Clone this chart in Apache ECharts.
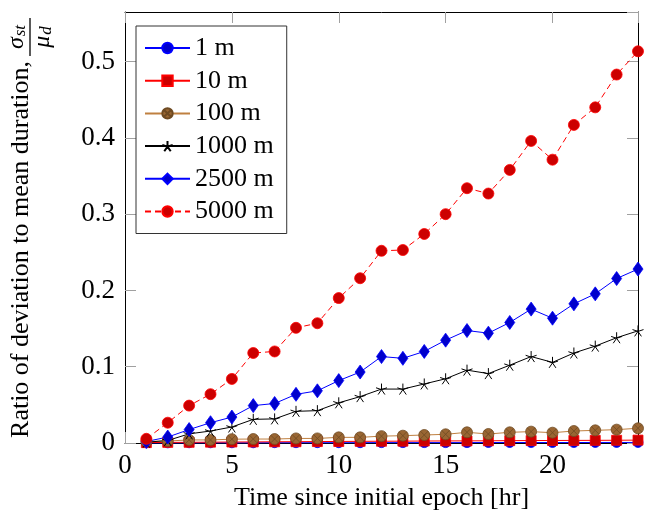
<!DOCTYPE html>
<html>
<head>
<meta charset="utf-8">
<script src="https://cdn.jsdelivr.net/npm/echarts@6/dist/echarts.min.js"></script>
<style>
  html, body { margin: 0; padding: 0; background: #fff; }
  #chart { width: 646px; height: 517px; }
</style>
</head>
<body>
<div id="chart"></div>
<script>
// hours since initial epoch
const hours = [1, 2, 3, 4, 5, 6, 7, 8, 9, 10, 11, 12, 13, 14, 15, 16, 17, 18, 19, 20, 21, 22, 23, 24]

// ratio sigma_st / mu_d per separation
const dev1m = [0.0002, 0.0002, 0.0003, 0.0003, 0.0003, 0.0003, 0.0004, 0.0004, 0.0004, 0.0004, 0.0004, 0.0005,
  0.0005, 0.0005, 0.0005, 0.0005, 0.0006, 0.0006, 0.0006, 0.0006, 0.0006, 0.0007, 0.0007, 0.0007]
const dev10m = [0.0005, 0.0008, 0.0009, 0.0011, 0.0013, 0.0014, 0.0016, 0.0017, 0.0019, 0.002, 0.0022, 0.0023,
  0.0024, 0.0026, 0.0027, 0.0028, 0.0029, 0.0031, 0.0032, 0.0033, 0.0034, 0.0035, 0.0036, 0.0038]
const dev100m = [0.002, 0.0026, 0.004, 0.004, 0.005, 0.0052, 0.0052, 0.006, 0.006, 0.0074, 0.0074, 0.009,
  0.0096, 0.0105, 0.0114, 0.014, 0.0118, 0.014, 0.0149, 0.0135, 0.0157, 0.0166, 0.0175, 0.0193]
const dev1000m = [0.001, 0.0033, 0.012, 0.0157, 0.021, 0.031, 0.0316, 0.0415, 0.0424, 0.0527, 0.0608, 0.0707,
  0.0707, 0.0774, 0.0842, 0.0955, 0.091, 0.102, 0.1133, 0.1057, 0.118, 0.127, 0.138, 0.147]
const dev2500m = [0.002, 0.0078, 0.0176, 0.0266, 0.034, 0.049, 0.0518, 0.0638, 0.0684, 0.0818, 0.093, 0.1133,
  0.111, 0.12, 0.1348, 0.1474, 0.144, 0.158, 0.1755, 0.1636, 0.1824, 0.1955, 0.2156, 0.228]
const dev5000m = [0.0055, 0.0266, 0.049, 0.064, 0.084, 0.118, 0.12, 0.151, 0.157, 0.19, 0.216, 0.252,
  0.253, 0.274, 0.3, 0.334, 0.327, 0.358, 0.396, 0.3714, 0.417, 0.44, 0.483, 0.5135]

const seriesNames = ['1 m', '10 m', '100 m', '1000 m', '2500 m', '5000 m']

const font = 'Liberation Serif'
const STAR = 'path://M0,-10L0,0M9.51,-3.09L0,0M5.88,8.09L0,0M-5.88,8.09L0,0M-9.51,-3.09L0,0'
const OTIMES = 'path://M10,0A10,10,0,1,1,-10,0A10,10,0,1,1,10,0ZM-7.07,-7.07L7.07,7.07M-7.07,7.07L7.07,-7.07'

function pairs(values) {
  return hours.map((h, i) => [h, values[i]])
}

function makeSeries(name, values, opt) {
  return {
    name: name,
    type: 'line',
    data: pairs(values),
    clip: false,
    symbol: opt.symbol,
    symbolSize: opt.size,
    lineStyle: { color: opt.line, width: 1, type: opt.dash || 'solid' },
    itemStyle: { color: opt.fill, borderColor: opt.border, borderWidth: opt.bw || 0.8 },
    emphasis: { disabled: true }
  }
}

const axisCommon = {
  type: 'value',
  axisLine: { show: true, onZero: false, lineStyle: { color: '#000', width: 1 } },
  axisTick: { show: true, inside: true, length: 11, lineStyle: { color: '#a0a0a0', width: 1 } },
  splitLine: { show: false }
}

const chart = echarts.init(document.getElementById('chart'))
chart.setOption({
  animation: false,
  backgroundColor: '#fff',
  grid: { left: 119, right: 8, top: 12, bottom: 74 },
  legend: {
    data: seriesNames,
    orient: 'vertical',
    left: 136,
    top: 26,
    padding: [9, 13, 9, 8],
    itemWidth: 45,
    itemHeight: 13,
    itemGap: 6.7,
    itemTextGap: 8,
    borderColor: '#333',
    borderWidth: 1,
    backgroundColor: '#fff',
    textStyle: { fontFamily: font, fontSize: 26, lineHeight: 26, color: '#000' }
  },
  xAxis: [
    Object.assign({}, axisCommon, {
      min: 0, max: 24, interval: 5,
      name: 'Time since initial epoch [hr]',
      nameLocation: 'middle',
      nameGap: 42,
      nameTextStyle: { fontFamily: font, fontSize: 26, color: '#000' },
      axisLabel: { margin: 9, showMaxLabel: false, fontFamily: font, fontSize: 27, color: '#000' }
    }),
    Object.assign({}, axisCommon, {
      position: 'top', min: 0, max: 24, interval: 5,
      axisLabel: { show: false }
    })
  ],
  yAxis: [
    Object.assign({}, axisCommon, {
      min: 0, max: 0.565, interval: 0.1,
      name: 'Ratio of deviation to mean duration,',
      nameLocation: 'middle',
      nameGap: 91,
      nameTextStyle: { fontFamily: font, fontSize: 26, color: '#000', padding: [0, 44, 0, 0] },
      axisLabel: { margin: 10, showMaxLabel: false, fontFamily: font, fontSize: 27, color: '#000' }
    }),
    Object.assign({}, axisCommon, {
      position: 'right', min: 0, max: 0.565, interval: 0.1,
      axisLabel: { show: false }
    })
  ],
  graphic: [
    {
      type: 'group',
      x: 30,
      y: 37,
      rotation: Math.PI / 2,
      silent: true,
      children: [
        { type: 'line', shape: { x1: -19, y1: 0, x2: 19, y2: 0 }, style: { stroke: '#000', lineWidth: 1.3 } },
        {
          type: 'text', x: 0, y: -1,
          style: {
            text: '{a|σ}{b|st}', align: 'center', verticalAlign: 'bottom',
            rich: {
              a: { fontFamily: font, fontStyle: 'italic', fontSize: 24, fill: '#000' },
              b: { fontFamily: font, fontStyle: 'italic', fontSize: 17, fill: '#000', padding: [8, 0, 0, 1] }
            }
          }
        },
        {
          type: 'text', x: 0, y: 0,
          style: {
            text: '{a|μ}{b|d}', align: 'center', verticalAlign: 'top',
            rich: {
              a: { fontFamily: font, fontStyle: 'italic', fontSize: 24, fill: '#000' },
              b: { fontFamily: font, fontStyle: 'italic', fontSize: 17, fill: '#000', padding: [8, 0, 0, 1] }
            }
          }
        }
      ]
    }
  ],
  series: [
    makeSeries('1 m', dev1m, { symbol: 'circle', size: 10, line: '#0000ff', fill: '#0000cc', border: '#0000ff' }),
    makeSeries('10 m', dev10m, { symbol: 'rect', size: 10, line: '#ff0000', fill: '#cc0000', border: '#ff0000' }),
    makeSeries('100 m', dev100m, { symbol: OTIMES, size: 11, line: '#bf8040', fill: '#996633', border: '#6e4a22' }),
    makeSeries('1000 m', dev1000m, { symbol: STAR, size: 11, line: '#000', fill: 'none', border: '#000', bw: 1 }),
    makeSeries('2500 m', dev2500m, { symbol: 'diamond', size: [10, 14], line: '#0000ff', fill: '#0000cc', border: '#0000ff' }),
    makeSeries('5000 m', dev5000m, { symbol: 'circle', size: 11, line: '#ff0000', fill: '#cc0000', border: '#ff0000', dash: [6, 4] })
  ]
})
</script>
</body>
</html>
